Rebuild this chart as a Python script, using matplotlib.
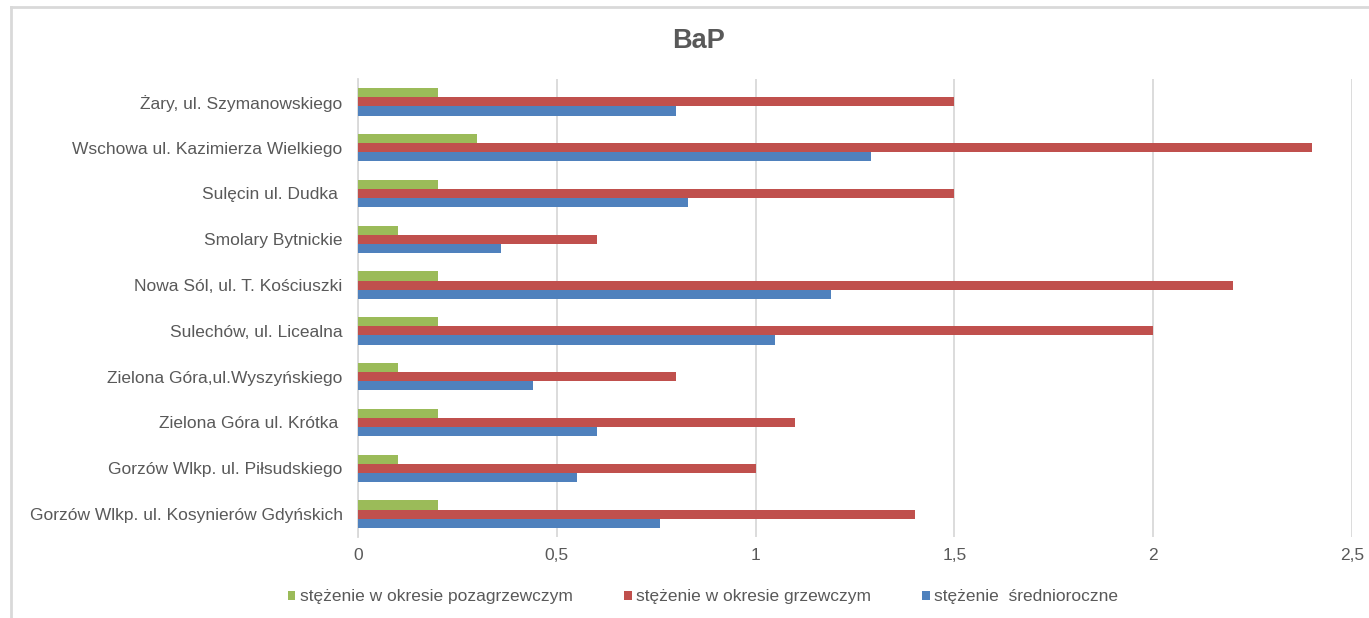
import matplotlib.pyplot as plt
import matplotlib.ticker as mticker
from matplotlib.lines import Line2D
import numpy as np

plt.rcParams['font.family'] = ['Liberation Sans', 'DejaVu Sans']

stations = ['Żary, ul. Szymanowskiego',
            'Wschowa ul. Kazimierza Wielkiego',
            'Sulęcin ul. Dudka ',
            'Smolary Bytnickie',
            'Nowa Sól, ul. T. Kościuszki',
            'Sulechów, ul. Licealna',
            'Zielona Góra,ul.Wyszyńskiego',
            'Zielona Góra ul. Krótka ',
            'Gorzów Wlkp. ul. Piłsudskiego',
            'Gorzów Wlkp. ul. Kosynierów Gdyńskich']
pozagrzewczy = [0.2, 0.3, 0.2, 0.1, 0.2, 0.2, 0.1, 0.2, 0.1, 0.2]
grzewczy = [1.5, 2.4, 1.5, 0.6, 2.2, 2.0, 0.8, 1.1, 1.0, 1.4]
srednioroczne = [0.8, 1.29, 0.83, 0.36, 1.19, 1.05, 0.44, 0.6, 0.55, 0.76]

labels = ['stężenie w okresie pozagrzewczym',
          'stężenie w okresie grzewczym',
          'stężenie  średnioroczne']
colors = ['#9BBB59', '#C0504D', '#4F81BD']
txt = '#595959'
grid = '#D9D9D9'

fig = plt.figure(figsize=(13.69, 6.18), dpi=100)
ax = fig.add_axes([358 / 1369, 1 - 537 / 618, 994 / 1369, 458 / 618])

y = np.arange(len(stations))
h = 0.2
for off, vals, col, lab in zip([-h, 0, h], [pozagrzewczy, grzewczy, srednioroczne], colors, labels):
    ax.barh(y + off, vals, height=h, color=col, label=lab, zorder=3)

ax.set_ylim(len(stations) - 0.5, -0.5)
ax.set_xlim(0, 2.5)
ax.set_yticks(y)
ax.set_yticklabels(stations)
ax.xaxis.set_major_locator(mticker.MultipleLocator(0.5))
ax.xaxis.set_major_formatter(mticker.FuncFormatter(lambda v, p: ('%g' % v).replace('.', ',')))
ax.tick_params(axis='both', length=0, labelsize=12.5, labelcolor=txt)
ax.tick_params(axis='x', pad=8)
ax.tick_params(axis='y', pad=11)
ax.grid(axis='x', color=grid, linewidth=1.3, zorder=0)
for s in ['top', 'right', 'bottom']:
    ax.spines[s].set_visible(False)
ax.spines['left'].set_color(grid)
ax.spines['left'].set_linewidth(1.3)

fig.text(698 / 1369, 1 - 41 / 618, 'BaP', ha='center', va='center',
         fontsize=19.5, fontweight='bold', color=txt)

fig.legend(loc='center', bbox_to_anchor=(703 / 1369, 1 - 597 / 618), ncol=3, frameon=False,
           fontsize=12.5, labelcolor=txt, handlelength=0.45, handleheight=0.45,
           handletextpad=0.25, columnspacing=2.95)

# chart area border (top and left edges visible)
bx, by = 11 / 1369, 1 - 7 / 618
fig.add_artist(Line2D([bx, 1.01], [by, by], transform=fig.transFigure, color=grid, linewidth=2))
fig.add_artist(Line2D([bx, bx], [-0.01, by], transform=fig.transFigure, color=grid, linewidth=2))

fig.savefig('out.png', dpi=100)
